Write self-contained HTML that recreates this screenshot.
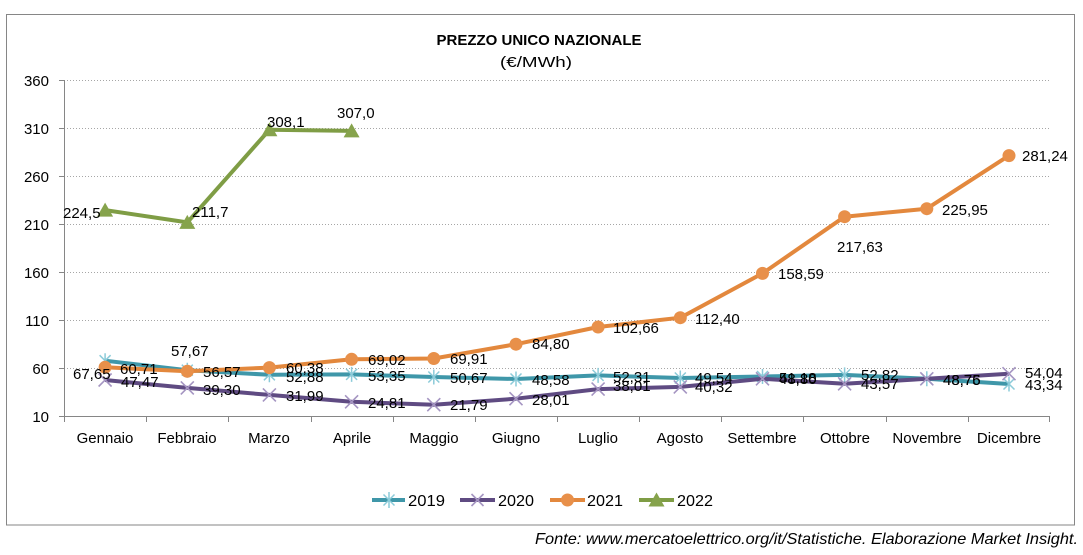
<!DOCTYPE html>
<html><head><meta charset="utf-8"><style>
html,body{margin:0;padding:0;background:#fff;}
svg{display:block;font-family:"Liberation Sans",sans-serif;}
</style></head><body>
<svg width="1083" height="555" viewBox="0 0 1083 555" xmlns="http://www.w3.org/2000/svg">
<defs>
<marker id="m19" markerUnits="userSpaceOnUse" markerWidth="16" markerHeight="16" viewBox="-8 -8 16 16" refX="0" refY="0" overflow="visible">
<path d="M-5.5,-5.5L5.5,5.5M-5.5,5.5L5.5,-5.5M0,-7.5L0,7.5" stroke="#8ccbd9" stroke-width="1.5" fill="none"/>
</marker>
<marker id="m20" markerUnits="userSpaceOnUse" markerWidth="16" markerHeight="16" viewBox="-8 -8 16 16" refX="0" refY="0" overflow="visible">
<path d="M-6.5,-6.5L6.5,6.5M-6.5,6.5L6.5,-6.5" stroke="#a595c2" stroke-width="1.6" fill="none"/>
</marker>
<marker id="m21" markerUnits="userSpaceOnUse" markerWidth="16" markerHeight="16" viewBox="-8 -8 16 16" refX="0" refY="0" overflow="visible">
<circle cx="0" cy="0" r="6.5" fill="#e8904a"/>
</marker>
<marker id="m22" markerUnits="userSpaceOnUse" markerWidth="18" markerHeight="18" viewBox="-9 -9 18 18" refX="0" refY="0" overflow="visible">
<path d="M0,-7.5L8,6.5L-8,6.5Z" fill="#86a34c"/>
</marker>
</defs>
<rect x="6.5" y="14.5" width="1068" height="510.5" fill="#fff" stroke="#868686" stroke-width="1"/>
<!-- title -->
<text x="539" y="45" font-size="15" font-weight="bold" text-anchor="middle" fill="#000" textLength="205" lengthAdjust="spacingAndGlyphs">PREZZO UNICO NAZIONALE</text>
<text x="536" y="67" font-size="15" text-anchor="middle" fill="#000" textLength="72" lengthAdjust="spacingAndGlyphs">(€/MWh)</text>
<!-- gridlines -->
<g stroke="#a6a6a6" stroke-width="1" stroke-dasharray="1,2">
<line x1="64" y1="80.5" x2="1050" y2="80.5"/>
<line x1="64" y1="128.5" x2="1050" y2="128.5"/>
<line x1="64" y1="176.5" x2="1050" y2="176.5"/>
<line x1="64" y1="224.5" x2="1050" y2="224.5"/>
<line x1="64" y1="272.5" x2="1050" y2="272.5"/>
<line x1="64" y1="320.5" x2="1050" y2="320.5"/>
<line x1="64" y1="368.5" x2="1050" y2="368.5"/>
</g>
<!-- axes -->
<g stroke="#868686" stroke-width="1">
<line x1="64.5" y1="80" x2="64.5" y2="416"/>
<line x1="64" y1="416.5" x2="1050" y2="416.5"/>
<line x1="59" y1="80.5" x2="64" y2="80.5"/>
<line x1="59" y1="128.5" x2="64" y2="128.5"/>
<line x1="59" y1="176.5" x2="64" y2="176.5"/>
<line x1="59" y1="224.5" x2="64" y2="224.5"/>
<line x1="59" y1="272.5" x2="64" y2="272.5"/>
<line x1="59" y1="320.5" x2="64" y2="320.5"/>
<line x1="59" y1="368.5" x2="64" y2="368.5"/>
<line x1="59" y1="416.5" x2="64" y2="416.5"/>
<line x1="64.5" y1="416" x2="64.5" y2="422"/>
<line x1="146.5" y1="416" x2="146.5" y2="422"/>
<line x1="228.5" y1="416" x2="228.5" y2="422"/>
<line x1="311.5" y1="416" x2="311.5" y2="422"/>
<line x1="393.5" y1="416" x2="393.5" y2="422"/>
<line x1="475.5" y1="416" x2="475.5" y2="422"/>
<line x1="557.5" y1="416" x2="557.5" y2="422"/>
<line x1="639.5" y1="416" x2="639.5" y2="422"/>
<line x1="721.5" y1="416" x2="721.5" y2="422"/>
<line x1="803.5" y1="416" x2="803.5" y2="422"/>
<line x1="886.5" y1="416" x2="886.5" y2="422"/>
<line x1="968.5" y1="416" x2="968.5" y2="422"/>
<line x1="1049.5" y1="416" x2="1049.5" y2="422"/>
</g>
<!-- y labels -->
<g font-size="15" fill="#000" text-anchor="end">
<text x="49" y="86">360</text>
<text x="49" y="134">310</text>
<text x="49" y="182">260</text>
<text x="49" y="230">210</text>
<text x="49" y="278">160</text>
<text x="49" y="326">110</text>
<text x="49" y="374">60</text>
<text x="49" y="422">10</text>
</g>
<!-- x labels -->
<g font-size="15" fill="#000" text-anchor="middle">
<text x="105" y="443">Gennaio</text>
<text x="187" y="443">Febbraio</text>
<text x="269" y="443">Marzo</text>
<text x="352" y="443">Aprile</text>
<text x="434" y="443">Maggio</text>
<text x="516" y="443">Giugno</text>
<text x="598" y="443">Luglio</text>
<text x="680" y="443">Agosto</text>
<text x="762" y="443">Settembre</text>
<text x="845" y="443">Ottobre</text>
<text x="927" y="443">Novembre</text>
<text x="1009" y="443">Dicembre</text>
</g>
<!-- series -->
<polyline fill="none" stroke="#3f97a9" stroke-width="4" stroke-linejoin="round" marker-start="url(#m19)" marker-mid="url(#m19)" marker-end="url(#m19)"
points="105.1,360.7 187.3,370.2 269.4,374.8 351.6,374.4 433.8,377.0 516,379.0 598.1,375.4 680.3,378.0 762.5,376.5 844.6,374.9 926.8,378.8 1009,384.0"/>
<polyline fill="none" stroke="#5f4b82" stroke-width="4" stroke-linejoin="round" marker-start="url(#m20)" marker-mid="url(#m20)" marker-end="url(#m20)"
points="105.1,380.0 187.3,387.9 269.4,394.9 351.6,401.8 433.8,404.7 516,398.7 598.1,389.1 680.3,386.9 762.5,378.8 844.6,383.8 926.8,378.8 1009,373.7"/>
<polyline fill="none" stroke="#e3883d" stroke-width="4" stroke-linejoin="round" marker-start="url(#m21)" marker-mid="url(#m21)" marker-end="url(#m21)"
points="105.1,367.3 187.3,371.3 269.4,367.6 351.6,359.3 433.8,358.5 516,344.2 598.1,327.0 680.3,317.7 762.5,273.4 844.6,216.7 926.8,208.7 1009,155.6"/>
<polyline fill="none" stroke="#7f9d45" stroke-width="4" stroke-linejoin="round" marker-start="url(#m22)" marker-mid="url(#m22)" marker-end="url(#m22)"
points="105.1,210.1 187.3,222.4 269.4,129.8 351.6,130.9"/>
<!-- data labels -->
<g font-size="15" fill="#000">
<text x="73" y="379">67,65</text>
<text x="171" y="356">57,67</text>
<text x="286" y="382">52,88</text>
<text x="368" y="381">53,35</text>
<text x="450" y="383">50,67</text>
<text x="532" y="385">48,58</text>
<text x="613" y="382">52,31</text>
<text x="695" y="383">49,54</text>
<text x="779" y="383">51,18</text>
<text x="861" y="380">52,82</text>
<text x="943" y="385">48,75</text>
<text x="1025" y="390">43,34</text>

<text x="121" y="387">47,47</text>
<text x="203" y="395">39,30</text>
<text x="286" y="401">31,99</text>
<text x="368" y="408">24,81</text>
<text x="450" y="410">21,79</text>
<text x="532" y="405">28,01</text>
<text x="613" y="391">38,01</text>
<text x="695" y="392">40,32</text>
<text x="779" y="384">48,80</text>
<text x="861" y="389">43,57</text>
<text x="943" y="385">48,76</text>
<text x="1025" y="378">54,04</text>

<text x="120" y="374">60,71</text>
<text x="203" y="377">56,57</text>
<text x="286" y="373">60,38</text>
<text x="368" y="365">69,02</text>
<text x="450" y="364">69,91</text>
<text x="532" y="349">84,80</text>
<text x="613" y="333">102,66</text>
<text x="695" y="324">112,40</text>
<text x="778" y="279">158,59</text>
<text x="837" y="252">217,63</text>
<text x="942" y="215">225,95</text>
<text x="1022" y="161">281,24</text>

<text x="63" y="218">224,5</text>
<text x="192" y="217">211,7</text>
<text x="267" y="127">308,1</text>
<text x="337" y="118">307,0</text>
</g>
<!-- legend -->
<g stroke-width="4">
<line x1="372" y1="500" x2="405" y2="500" stroke="#3f97a9"/>
<path d="M383.5,494.5L394.5,505.5M383.5,505.5L394.5,494.5M389,492L389,508" stroke="#8ccbd9" stroke-width="1.5"/>
<line x1="460" y1="500" x2="495" y2="500" stroke="#5f4b82"/>
<path d="M471.5,494L483.5,506M471.5,506L483.5,494" stroke="#a595c2" stroke-width="1.6"/>
<line x1="550" y1="500" x2="585" y2="500" stroke="#e3883d"/>
<circle cx="567.5" cy="500" r="6.5" fill="#e8904a" stroke="none"/>
<line x1="639" y1="500" x2="674" y2="500" stroke="#7f9d45"/>
<path d="M656.5,492.5L664.5,506.5L648.5,506.5Z" fill="#86a34c" stroke="none"/>
</g>
<g font-size="16" fill="#000">
<text x="408" y="506" textLength="37" lengthAdjust="spacingAndGlyphs">2019</text>
<text x="498" y="506" textLength="36" lengthAdjust="spacingAndGlyphs">2020</text>
<text x="587" y="506" textLength="36" lengthAdjust="spacingAndGlyphs">2021</text>
<text x="677" y="506" textLength="36" lengthAdjust="spacingAndGlyphs">2022</text>
</g>
<!-- footer -->
<text x="535" y="544" font-size="16" font-style="italic" fill="#000" textLength="543" lengthAdjust="spacingAndGlyphs">Fonte: www.mercatoelettrico.org/it/Statistiche. Elaborazione Market Insight.</text>
</svg>
</body></html>
